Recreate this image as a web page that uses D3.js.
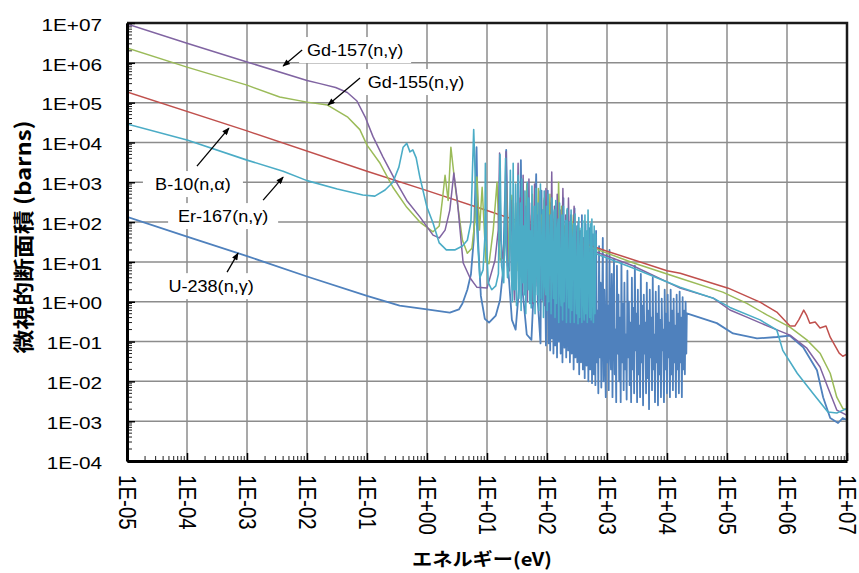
<!DOCTYPE html>
<html>
<head>
<meta charset="utf-8">
<script src="https://cdn.jsdelivr.net/npm/d3@7"></script>
<style>
  body { margin: 0; background: #fff; }
  svg { display: block; }
</style>
</head>
<body>
<svg id="chart" width="859" height="573"></svg>
<script>
// ---- Axis ticks ----
const xTickValues = [1e-5, 1e-4, 1e-3, 1e-2, 1e-1, 1e0, 1e1, 1e2, 1e3, 1e4, 1e5, 1e6, 1e7];
const xTickLabels = ["1E-05","1E-04","1E-03","1E-02","1E-01","1E+00","1E+01","1E+02","1E+03","1E+04","1E+05","1E+06","1E+07"];
const yTickValues = [1e-4, 1e-3, 1e-2, 1e-1, 1e0, 1e1, 1e2, 1e3, 1e4, 1e5, 1e6, 1e7];
const yTickLabels = ["1E-04","1E-03","1E-02","1E-01","1E+00","1E+01","1E+02","1E+03","1E+04","1E+05","1E+06","1E+07"];

// ---- Cross sections: [energy (eV), cross section (barns)] ----
const u238 = [
  [1e-5,135],[1e-4,43],[1e-3,14],[1e-2,4.3],[0.1,1.4],[0.35,0.8],[1,0.64],[2.4,0.53],[3.4,0.64],[3.9,0.9],
  [4.7,2],[5.4,4.9],[6.0,35],[6.7,7600],[7.1,35],[7.9,1.4],[9.2,0.37],[10.8,0.3],[14,0.45],[16.5,1.1],
  [18.5,6],[20.9,6500],[22.7,6],[26,0.35],[30,0.2],[34,2],[36.7,3600],[39,2],[46,0.15],[55,0.11],
  [59,1.1],[66,1600],[70,1.1],[78,0.09],[81,620],[85,1.1],[90,350],[96,0.08],
  [103,620],[106,0.09],[109,40],[113,0.06],[116,300],[120,0.12],[124,25],[128,0.05],[133,180],[137,0.08],
  [142,60],[147,0.04],[152,250],[158,0.1],[163,30],[169,0.05],[175,120],[181,0.03],[188,400],[195,0.07],
  [202,45],[209,0.04],[217,200],[225,0.06],[233,30],[241,0.03],[250,150],[259,0.05],[268,80],[278,0.02],
  [288,220],[298,0.04],[309,35],[320,0.03],[332,100],[344,0.015],[356,60],[369,0.03],[382,150],[396,0.02],
  [410,40],[425,0.012],[440,90],[456,0.025],[472,30],[489,0.01],[507,70],[525,0.02],[544,25],[563,0.009],
  [583,50],[604,0.015],[622,20],
  [640,0.008],[658,60],[677,0.03],[697,0.6],[717,0.005],[738,25],[759,0.04],[781,3],[804,0.007],[827,0.3],
  [851,40],[876,0.01],[901,2],[927,0.05],[954,0.004],[982,15],[1010,0.03],[1039,0.8],[1069,0.006],[1100,20],
  [1132,0.1],[1165,0.02],[1199,5],[1234,0.004],[1270,0.5],[1307,12],[1345,0.015],[1384,0.2],[1424,0.003],[1465,8],
  [1508,0.05],[1552,1.5],[1597,0.01],[1643,0.4],[1691,0.003],[1740,10],[1790,0.03],[1842,0.9],[1896,0.006],[1951,3],
  [2008,0.02],[2066,0.15],[2126,0.0035],[2188,6],[2251,0.04],[2317,1],[2384,0.008],[2453,0.3],[2524,0.003],[2598,4],
  [2673,0.02],[2751,0.7],[2831,0.005],[2913,8],[2998,0.06],[3085,0.5],[3174,0.003],[3267,2],[3361,0.015],[3459,0.25],
  [3559,0.004],[3663,5],[3769,0.03],[3879,0.8],[3991,0.0025],[4107,1.5],[4227,0.05],[4349,0.3],[4476,0.005],[4606,3],
  [4739,0.012],[4877,0.6],[5019,0.002],[5165,2],[5314,0.04],[5469,0.4],[5628,0.006],[5791,4],[5959,0.02],[6132,0.15],
  [6310,0.003],[6494,1.8],[6682,0.03],[6876,0.5],[7076,0.0025],[7282,2.5],[7493,0.015],[7711,0.35],[7935,0.004],[8165,1.2],
  [8402,0.06],[8646,0.2],[8898,0.003],[9156,2],[9422,0.02],[9696,0.5],[9977,0.005],[10270,1.5],[10560,0.04],[10870,0.3],
  [11190,0.004],[11510,2],[11850,0.015],[12190,0.6],[12550,0.006],[12910,1.2],[13290,0.03],[13670,0.25],[14070,0.004],[14480,1.5],
  [14900,0.02],[15330,0.5],[15780,0.005],[16240,1.8],[16710,0.03],[17190,0.4],[17690,0.004],[18210,1.3],[18740,0.02],[19280,0.6],
  [19840,0.015],[20420,1],[21000,0.05],[21400,0.51],
  [6.76e4,0.29],[1.26e5,0.16],[3.16e5,0.12],[6.76e5,0.13],[1.12e6,0.14],[1.86e6,0.072],[3.16e6,0.019],[4.0e6,0.004],
  [5.25e6,0.0012],[7.1e6,0.0009],[8.5e6,0.0012],[1e7,0.00107]
];

const b10 = [
  [1e-5,1.86e5],[1e-3,1.95e4],[1e-1,1.9e3],[1,617],[10,195],[100,61.7],[1e3,18.6],[1e4,6.0],[1.66e4,5.2],
  [1.05e5,2.19],[3.55e5,0.977],[6.76e5,0.55],[1.12e6,0.245],[1.35e6,0.245],[1.58e6,0.355],[1.9e6,0.617],
  [2.14e6,0.447],[2.4e6,0.288],[2.95e6,0.309],[3.55e6,0.219],[4.47e6,0.245],[5.25e6,0.129],[7.41e6,0.0513],
  [8.51e6,0.0427],[1e7,0.0479]
];

const gd155 = [
  [1e-5,2.35e6],[1e-4,7.8e5],[1e-3,2.75e5],[3.5e-3,1.38e5],[0.01,1.03e5],[0.022,8.7e4],[0.047,4.4e4],[0.076,2.1e4],
  [0.1,8.6e3],[0.165,3.0e3],[0.27,750],[0.46,235],[0.76,100],[1.26,57],[1.6,80],[1.8,350],[2.0,1500],[2.25,350],
  [2.5,7600],[3.0,650],[3.9,35],[4.7,16.5],[5.6,22],[6.3,110],[6.8,1350],[7.5,63],[8.3,750],[9.6,10],[10.8,9],
  [12.7,63],[14.7,1000],[16.5,11],[19.5,14],[21,1000],[23.3,10],[26,470],[28,9],[30,300],[31.5,6],[33,800],[35,12],
  [37,200],[39,5],[41,600],[43,15],[46,900],[48,8],[51,150],[54,20],[57,500],[60,6],[64,250],[68,12],[72,700],
  [76,10],[80,150],[85,18],[90,400],[95,8],[100,200],[106,15],[112,500],[118,10],[125,120],[132,20],[140,300],
  [148,12],[156,1000],[165,25],[175,250],[185,15],[196,80],[207,25],[219,200],[232,18],[245,60],[260,30],[275,150],
  [290,22],[307,50],[325,26],[344,70],[364,25],[385,40],[407,24],[430,30],[455,23],[500,24],[580,22],[660,21],
  [2.7e3,9.5],[1.65e4,3.9],[8.5e4,1.74],[2.14e5,0.91],[4.7e5,0.46],[1.12e6,0.23],[2.14e6,0.11],[3.55e6,0.051],
  [5.25e6,0.016],[6.76e6,0.004],[8.5e6,0.0021],[1e7,0.0019]
];

const gd157 = [
  [1e-5,9.4e6],[1e-4,3.1e6],[1e-3,1.05e6],[0.01,3.6e5],[0.0165,3.0e5],[0.03,2.4e5],[0.047,1.8e5],[0.068,1.1e5],
  [0.093,4.4e4],[0.126,1.4e4],[0.185,4.3e3],[0.293,1.15e3],[0.46,350],[0.76,135],[1.26,47],[1.6,40],[2.0,63],
  [2.4,200],[2.8,1700],[3.2,350],[4.0,9.5],[5.2,4],[6.8,2.3],[10,2.2],[13.6,11],[15.4,63],[16.2,5400],[17,35],
  [18.5,12],[20,30],[20.8,5800],[22,8],[23.7,6],[25,350],[26.5,20],[28.7,1.1],[31,20],[33,3000],[34.5,3],[36,400],
  [38,1.5],[40,1500],[42,2],[44,250],[47,1],[50,1200],[52,3],[55,300],[58,0.9],[62,900],[65,2.5],[69,150],[73,1],
  [77,600],[81,2],[86,200],[91,0.8],[96,700],[101,3],[107,150],[113,1.5],[120,1800],[126,2.5],[133,250],[140,1],
  [148,500],[156,3],[165,200],[174,1.2],[184,700],[194,4],[205,150],[216,2],[228,400],[241,5],[254,100],[268,3],
  [283,250],[299,8],[316,80],[334,6],[352,60],[372,10],[393,40],[415,12],[440,25],[500,19],[580,18],[660,17.8],
  [2.7e3,8],[1.65e4,2.2],[5.9e4,1.23],[1.12e5,0.62],[2.14e5,0.41],[5.25e5,0.23],[1.12e6,0.145],[2.14e6,0.068],
  [3.55e6,0.023],[4.8e6,0.007],[6.76e6,0.0019],[8.5e6,0.0016],[1e7,0.0014]
];

const er167 = [
  [1e-5,2.9e4],[1e-4,1.15e4],[1e-3,3.6e3],[4e-3,1.9e3],[0.01,1.1e3],[0.032,680],[0.085,480],[0.135,450],[0.2,640],
  [0.27,1e3],[0.34,2.4e3],[0.4,7.6e3],[0.46,9.5e3],[0.52,5.8e3],[0.58,6.5e3],[0.66,4.1e3],[0.76,1.35e3],[1.0,235],
  [1.26,95],[1.6,30],[2.1,20],[2.9,20],[3.9,25],[4.7,35],[5.4,100],[6.0,2.1e4],[6.8,63],[7.6,4],[8.6,6.3],[9.2,40],
  [9.4,3000],[9.7,40],[10.5,3],[12,2],[14,2.5],[15.5,5],[16.5,5000],[17.5,8],[19,3],[20,200],[20.4,4000],[21,20],
  [22,4],[23.5,8],[24.5,2000],[25.5,5],[26.5,1],[27.3,3000],[28.2,2],
  [29,2],[30,900],[31,0.8],[32,40],[33,1500],[34,1.2],[35,15],[36,300],[37,0.6],[38.2,1200],[39.4,3],[40.6,80],
  [41.8,1.5],[43,600],[44.3,0.5],[45.6,20],[47,1000],[48.4,2],[49.9,400],[51.4,0.9],[52.9,60],[54.5,0.7],[56.1,800],
  [57.8,5],[59.5,1],[61.3,250],[63.2,0.5],[65.1,700],[67,10],[69,1.5],[71.1,300],[73.2,0.6],[75.4,40],[77.7,900],
  [80,1.2],[82.4,8],[84.9,200],[87.4,0.4],[90,600],[92.7,3],[95.5,1.5],[98.4,250],[101,0.6],[104,500],[107,1],
  [111,30],[114,150],[117,0.5],[121,400],[124,6],[128,1.2],[132,200],[136,0.4],[140,350],[144,0.9],[148,50],
  [153,120],[157,0.3],[162,300],[167,2],[172,0.8],[177,150],[182,0.35],[188,250],[193,1],[199,20],[205,110],
  [211,0.3],[218,220],[224,4],[231,0.7],[238,100],[245,0.3],[252,200],[260,0.6],[268,30],[276,90],[284,0.3],
  [293,160],[301,2],[310,0.5],[320,80],[329,0.28],[339,130],[349,0.4],[360,15],[370,70],[381,0.3],[393,110],
  [405,1],[417,0.35],[429,150],[442,0.5],[455,60],[469,0.3],[483,200],[498,3],[513,0.4],[528,90],[544,0.35],
  [560,120],[577,1],[594,0.3],[612,80],[630,0.5],[649,50],[660,16],
  [2.7e3,7],[1.65e4,2.3],[5.9e4,1.23],[1.12e5,0.72],[3.55e5,0.35],[6.76e5,0.195],[8.5e5,0.06],[1.48e6,0.016],
  [2.7e6,0.005],[4.8e6,0.0017],[6.76e6,0.0016],[1e7,0.0021]
];

const seriesNames = ["U-238(n,γ)", "B-10(n,α)", "Gd-155(n,γ)", "Gd-157(n,γ)", "Er-167(n,γ)"];
const seriesData = [u238, b10, gd155, gd157, er167];
const seriesColors = ["#4F81BD", "#C0504D", "#9BBB59", "#8064A2", "#4BACC6"];
const seriesWidths = [1.8, 1.5, 1.5, 1.5, 1.6];

// Arrow tips sit on the curves, in data units
const labelTips = [[4e-3, 8.3e5], [0.0224, 8.7e4], [5e-4, 2.3e4], [4e-3, 1.35e3], [7.1e-4, 16.6]];
const labelTexts = ["Gd-157(n,γ)", "Gd-155(n,γ)", "B-10(n,α)", "Er-167(n,γ)", "U-238(n,γ)"];

// ---- Layout ----
const svg = d3.select("#chart");
const plot = { left: 127, right: 847, top: 23, bottom: 461 };

const x = d3.scaleLog().domain([1e-5, 1e7]).range([plot.left, plot.right]);
const y = d3.scaleLog().domain([1e-4, 1e7]).range([plot.bottom, plot.top]);

const FONT = "'Liberation Sans', Arial, sans-serif";
const CJK = "'Noto Sans CJK JP', 'Noto Sans', sans-serif";
const STRETCH = 1.2;

// grid
const grid = svg.append("g");
grid.selectAll(".gx").data(xTickValues).join("line")
  .attr("x1", d => x(d)).attr("x2", d => x(d))
  .attr("y1", plot.top).attr("y2", plot.bottom)
  .attr("stroke", "#8c8c8c").attr("stroke-width", 1.5);
grid.selectAll(".gy").data(yTickValues).join("line")
  .attr("x1", plot.left).attr("x2", plot.right)
  .attr("y1", d => y(d)).attr("y2", d => y(d))
  .attr("stroke", "#8c8c8c").attr("stroke-width", 1.5);

// minor ticks (2..9 per decade), pointing into the plot
const minorX = [], minorY = [];
for (let e = -5; e < 7; e++) for (let k = 2; k <= 9; k++) minorX.push(k * Math.pow(10, e));
for (let e = -4; e < 7; e++) for (let k = 2; k <= 9; k++) minorY.push(k * Math.pow(10, e));
svg.append("g").selectAll("line").data(minorX).join("line")
  .attr("x1", d => x(d)).attr("x2", d => x(d))
  .attr("y1", plot.bottom).attr("y2", plot.bottom - 5)
  .attr("stroke", "#222").attr("stroke-width", 1);
svg.append("g").selectAll("line").data(minorY).join("line")
  .attr("x1", plot.left).attr("x2", plot.left + 5)
  .attr("y1", d => y(d)).attr("y2", d => y(d))
  .attr("stroke", "#222").attr("stroke-width", 1);

// data lines
svg.append("clipPath").attr("id", "plotClip").append("rect")
  .attr("x", plot.left).attr("y", plot.top)
  .attr("width", plot.right - plot.left).attr("height", plot.bottom - plot.top);

const line = d3.line().x(d => x(d[0])).y(d => y(d[1]));
svg.append("g").attr("clip-path", "url(#plotClip)")
  .selectAll("path").data(seriesData).join("path")
  .attr("d", line)
  .attr("fill", "none")
  .attr("stroke", (d, i) => seriesColors[i])
  .attr("stroke-width", (d, i) => seriesWidths[i])
  .attr("stroke-linejoin", "round");

// frame top / right
svg.append("path")
  .attr("d", `M${plot.left},${plot.top}H${plot.right}V${plot.bottom}`)
  .attr("fill", "none").attr("stroke", "#1a1a1a").attr("stroke-width", 2.5);

// x axis
const xAxis = svg.append("g").attr("transform", `translate(0,${plot.bottom})`)
  .call(d3.axisBottom(x).tickValues(xTickValues).tickFormat((d, i) => xTickLabels[i])
    .tickSizeInner(-8).tickSizeOuter(0));
xAxis.select(".domain").attr("stroke", "#000").attr("stroke-width", 3);
xAxis.selectAll(".tick line").attr("stroke", "#000").attr("stroke-width", 1.5);
xAxis.selectAll(".tick text")
  .attr("x", 0).attr("y", 0).attr("dy", "0.36em")
  .attr("transform", `translate(0,14) scale(${STRETCH},1) rotate(90)`)
  .attr("text-anchor", "start")
  .attr("font-family", FONT).attr("font-size", 20.5).attr("fill", "#000");

// y axis
const yAxis = svg.append("g").attr("transform", `translate(${plot.left},0)`)
  .call(d3.axisLeft(y).tickValues(yTickValues).tickFormat((d, i) => yTickLabels[i])
    .tickSizeInner(-8).tickSizeOuter(0));
yAxis.select(".domain").attr("stroke", "#000").attr("stroke-width", 3);
yAxis.selectAll(".tick line").attr("stroke", "#000").attr("stroke-width", 1.5);
yAxis.selectAll(".tick text")
  .attr("x", 0).attr("y", 0).attr("dy", "0.36em")
  .attr("transform", `translate(-25,1) scale(${STRETCH},1)`)
  .attr("text-anchor", "end")
  .attr("font-family", FONT).attr("font-size", 17.3).attr("fill", "#000");

// axis titles
svg.append("text")
  .attr("transform", `translate(482,566) scale(${STRETCH},1)`)
  .attr("text-anchor", "middle")
  .attr("font-family", CJK).attr("font-weight", "bold").attr("font-size", 18)
  .attr("textLength", 140 / STRETCH).attr("lengthAdjust", "spacingAndGlyphs")
  .text("エネルギー(eV)");

svg.append("text")
  .attr("transform", `translate(23,237) scale(${STRETCH},1) rotate(-90)`)
  .attr("text-anchor", "middle").attr("dy", "0.36em")
  .attr("font-family", CJK).attr("font-weight", "bold").attr("font-size", 17.5)
  .attr("textLength", 233).attr("lengthAdjust", "spacingAndGlyphs")
  .text("微視的断面積 (barns)");

// annotations: label box, text, and an arrow to the curve
const defs = svg.append("defs");
defs.append("marker").attr("id", "arrow")
  .attr("viewBox", "0 0 10 8").attr("refX", 9).attr("refY", 4)
  .attr("markerWidth", 9).attr("markerHeight", 6).attr("markerUnits", "userSpaceOnUse")
  .attr("orient", "auto")
  .append("path").attr("d", "M0,0L10,4L0,8Z").attr("fill", "#000");

// label placement relative to arrow tip: [text center dx, dy, arrow tail dx, dy, box half width]
const labelLayout = [
  [72, -16, 19, -16, 56],
  [88, -23, 32, -27, 55],
  [-36, 56, -32, 38, 50],
  [-60, 39, -20, 23, 55],
  [-27, 33, -11, 19, 55]
];

const ann = svg.append("g");
labelTexts.forEach((t, i) => {
  const [tx, ty] = [x(labelTips[i][0]), y(labelTips[i][1])];
  const [dx, dy, ax, ay, hw] = labelLayout[i];
  ann.append("rect")
    .attr("x", tx + dx - hw).attr("y", ty + dy - 13)
    .attr("width", hw * 2).attr("height", 26).attr("fill", "#fff");
  ann.append("text")
    .attr("transform", `translate(${tx + dx},${ty + dy}) scale(1.13,1)`)
    .attr("text-anchor", "middle").attr("dy", "0.36em")
    .attr("font-family", FONT).attr("font-size", 16).attr("fill", "#000")
    .text(t);
  ann.append("line")
    .attr("x1", tx + ax).attr("y1", ty + ay).attr("x2", tx).attr("y2", ty)
    .attr("stroke", "#000").attr("stroke-width", 1.3)
    .attr("marker-end", "url(#arrow)");
});
</script>
</body>
</html>
